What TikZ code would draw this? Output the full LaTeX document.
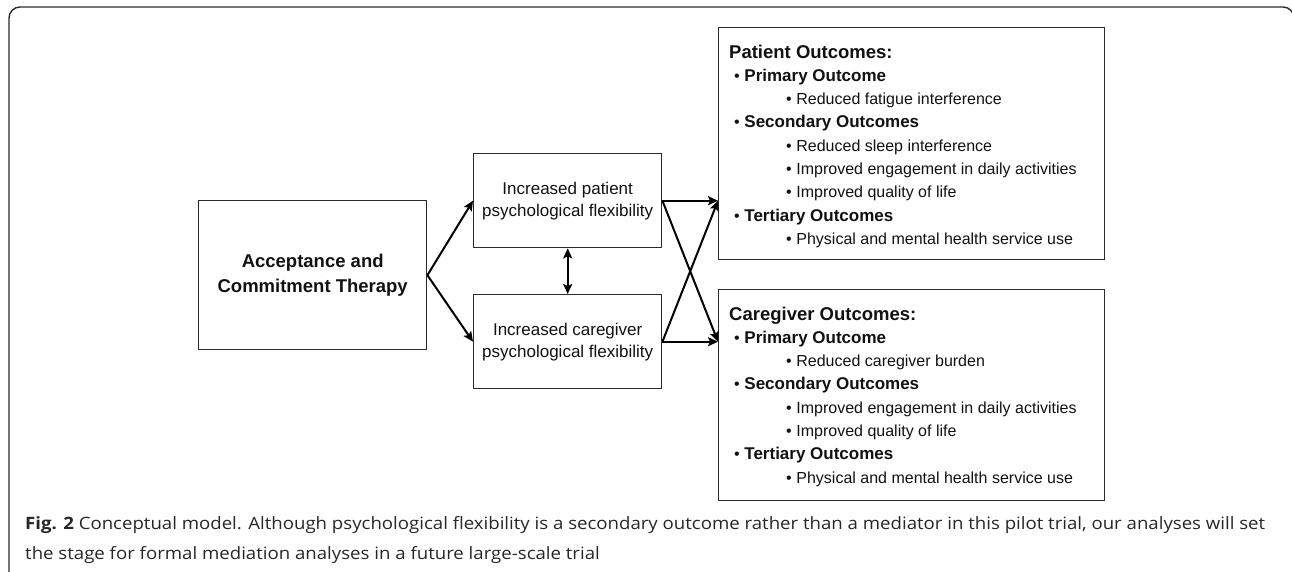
\documentclass[tikz,border=0pt]{standalone}
\usepackage{fontspec}
\setmainfont{Liberation Sans}
\newfontfamily\capfont{Open Sans}
\usetikzlibrary{arrows.meta}
\definecolor{lc}{HTML}{2B2B2B}
\definecolor{tc}{HTML}{111111}
\definecolor{cc}{HTML}{262626}
\newlength\capw
\newcommand\lone[1]{{\fontsize{16}{16}\selectfont\textbullet}\hspace{4.6pt}{\bfseries\fontsize{17}{17}\selectfont #1}}
\newcommand\ltwo[1]{{\fontsize{16}{16}\selectfont\textbullet\hspace{4.6pt}#1}}
\newcommand\capone{\textbf{Fig. 2} Conceptual model. Although psychological flexibility is a secondary outcome rather than a mediator in this pilot trial, our analyses will set}
\begin{document}
\settowidth{\capw}{\capfont\fontsize{17}{17}\selectfont\capone}
\pgfmathsetmacro\capsx{1240/\capw}
\begin{tikzpicture}[x=1pt,y=-1pt,
  box/.style={draw=lc, line width=1.4pt, inner sep=0pt, anchor=north west, text=tc},
  tip/.style={Stealth[length=10pt,width=9pt,inset=2pt]},
  arr/.style={draw=black, line width=2pt, -{Stealth[length=10pt,width=9pt,inset=2pt]}},
  dbl/.style={draw=black, line width=2pt, {Stealth[length=10pt,width=9pt,inset=2pt]}-{Stealth[length=10pt,width=9pt,inset=2pt]}},
  ln/.style={anchor=base west, inner sep=0pt, text=tc, font=\fontsize{16}{16}\selectfont},
  hd/.style={anchor=base west, inner sep=0pt, text=tc, font=\bfseries\fontsize{18.5}{18.5}\selectfont},
  captext/.style={anchor=base west, inner sep=0pt, text=cc}
]
\useasboundingbox (0,0) rectangle (1292,571);
% outer frame
\draw[lc, line width=1.4pt, rounded corners=11pt] (9,580) -- (9,7) -- (1294,7) -- (1294,580);

% boxes
\node[box, minimum width=228pt, minimum height=149pt, align=center,
      font=\bfseries\fontsize{18.5}{25}\selectfont] (act) at (198,200) {Acceptance and\\Commitment Therapy};
\node[box, minimum width=188pt, minimum height=94pt, align=center,
      font=\fontsize{17}{22}\selectfont] (pf) at (473,153) {Increased patient\\psychological flexibility};
\node[box, minimum width=188pt, minimum height=94pt, align=center,
      font=\fontsize{17}{22}\selectfont] (cf) at (473,294) {Increased caregiver\\psychological flexibility};
\node[box, minimum width=386pt, minimum height=232pt] (pat) at (718,27) {};
\node[box, minimum width=386pt, minimum height=211pt] (cg) at (718,289) {};

% patient outcomes text
\node[hd] (p0) at (729,58) {Patient Outcomes:};
\node[ln] (p1) at (734,81.3) {\lone{Primary Outcome}};
\node[ln] (p2) at (786,104.6) {\ltwo{Reduced fatigue interference}};
\node[ln] (p3) at (734,127.9) {\lone{Secondary Outcomes}};
\node[ln] (p4) at (786,151.2) {\ltwo{Reduced sleep interference}};
\node[ln] (p5) at (786,174.5) {\ltwo{Improved engagement in daily activities}};
\node[ln] (p6) at (786,197.8) {\ltwo{Improved quality of life}};
\node[ln] (p7) at (734,221.1) {\lone{Tertiary Outcomes}};
\node[ln] (p8) at (786,244.4) {\ltwo{Physical and mental health service use}};

% caregiver outcomes text
\node[hd] (c0) at (729,320) {Caregiver Outcomes:};
\node[ln] (c1) at (734,343.3) {\lone{Primary Outcome}};
\node[ln] (c2) at (786,366.6) {\ltwo{Reduced caregiver burden}};
\node[ln] (c3) at (734,389.9) {\lone{Secondary Outcomes}};
\node[ln] (c4) at (786,413.2) {\ltwo{Improved engagement in daily activities}};
\node[ln] (c5) at (786,436.5) {\ltwo{Improved quality of life}};
\node[ln] (c6) at (734,459.8) {\lone{Tertiary Outcomes}};
\node[ln] (c7) at (786,483.1) {\ltwo{Physical and mental health service use}};

% connectors
\draw[arr] (act.east) -- (pf.west);
\draw[arr] (act.east) -- (cf.west);
\draw[dbl] (pf.south) -- (cf.north);
\draw[arr] (pf.east) -- (pat.west |- pf.east);
\draw[arr] (cf.east) -- (cg.west |- cf.east);
\draw[arr] (pf.east) -- (cg.west |- cf.east);
\draw[arr] (cf.east) -- (pat.west |- pf.east);

% caption
\node[captext] (cap1) at (25,529) {\scalebox{\capsx}[1]{\capfont\fontsize{17}{17}\selectfont\capone}};
\node[captext] (cap2) at (25,559) {\scalebox{\capsx}[1]{\capfont\fontsize{17}{17}\selectfont the stage for formal mediation analyses in a future large-scale trial}};
\end{tikzpicture}
\end{document}
